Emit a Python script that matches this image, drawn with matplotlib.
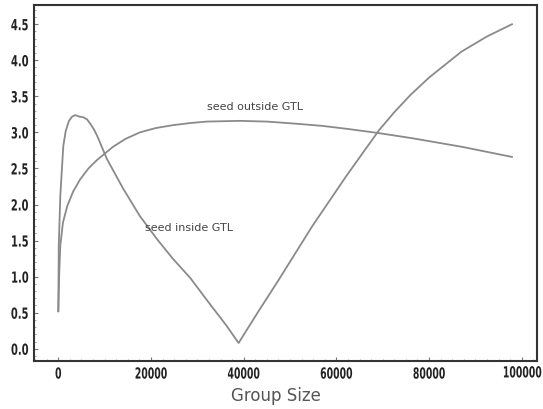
import numpy as np
import matplotlib
matplotlib.use("Agg")
import matplotlib.pyplot as plt
from matplotlib.ticker import MultipleLocator
from matplotlib.font_manager import FontProperties
from matplotlib.patheffects import AbstractPathEffect
from matplotlib.transforms import Affine2D

# seed inside GTL
inside_x = [0, 100, 430, 1075, 1600, 2300, 3000, 3650, 4500, 5400, 6200,
            6900, 7700, 8400, 10500, 14000, 17600, 21300, 24700, 28500,
            32000, 36300, 38900, 43000, 47700, 54800, 62200, 69200, 72500,
            76000, 80000, 87000, 92500, 97900]
inside_y = [0.52, 1.43, 2.12, 2.81, 3.02, 3.16, 3.22, 3.24, 3.22, 3.21, 3.18,
            3.12, 3.04, 2.95, 2.63, 2.22, 1.84, 1.52, 1.25, 0.98,
            0.68, 0.32, 0.08, 0.50, 0.97, 1.70, 2.40, 3.03, 3.28,
            3.52, 3.76, 4.12, 4.33, 4.50]

# seed outside GTL
outside_x = [0, 200, 430, 1000, 1940, 3200, 4730, 6500, 8400, 11800, 14500,
             17600, 21000, 24700, 28500, 32000, 39100, 45000, 51400, 57000,
             62200, 69200, 76300, 87100, 97900]
outside_y = [0.52, 1.05, 1.43, 1.75, 1.98, 2.18, 2.35, 2.50, 2.62, 2.80, 2.91,
             3.0, 3.06, 3.1, 3.13, 3.15, 3.16, 3.15, 3.12, 3.09,
             3.05, 2.99, 2.92, 2.80, 2.66]

x_ticks = [0, 20000, 40000, 60000, 80000, 100000]
y_ticks = [0.0, 0.5, 1.0, 1.5, 2.0, 2.5, 3.0, 3.5, 4.0, 4.5]


class Condense(AbstractPathEffect):
    """squeeze glyphs horizontally (narrow bold look of the original)"""
    def __init__(self, sx=0.66, anchor='center'):
        super().__init__()
        self.sx = sx
        self.anchor = anchor

    def draw_path(self, renderer, gc, tpath, affine, rgbFace=None):
        ext = tpath.get_extents()
        if self.anchor == 'right':
            cx = ext.x1
        else:
            cx = (ext.x0 + ext.x1) / 2
        t = Affine2D().translate(-cx, 0).scale(self.sx, 1).translate(cx, 0) + affine
        renderer.draw_path(gc, tpath, t, rgbFace)


fig = plt.figure(figsize=(5.43, 4.10), dpi=100)
ax = fig.add_axes([0.063, 0.117, 0.926, 0.869])

line_col = '#8a8a8a'
ax.plot(inside_x, inside_y, color=line_col, lw=1.3)
ax.plot(outside_x, outside_y, color=line_col, lw=1.3)

ax.text(18700, 1.69, 'seed inside GTL', fontsize=8, color='#444444',
        ha='left', va='center')
ax.text(32000, 3.37, 'seed outside GTL', fontsize=8, color='#444444',
        ha='left', va='center')

ax.set_xlim(-5200, 103300)
ax.set_ylim(-0.17, 4.77)
ax.set_xticks(x_ticks)
ax.set_xticklabels([str(v) for v in x_ticks[:-1]] + [''])
ax.set_yticks(y_ticks)
ax.set_yticklabels([f'{v:.1f}' for v in y_ticks])
ax.xaxis.set_minor_locator(MultipleLocator(2500))
ax.yaxis.set_minor_locator(MultipleLocator(0.1))

tick_fp = FontProperties(family='DejaVu Sans', weight='bold', size=11)
for lab in ax.get_xticklabels():
    lab.set_fontproperties(tick_fp)
    lab.set_color('#222222')
    lab.set_path_effects([Condense(0.61, 'center')])
for lab in ax.get_yticklabels():
    lab.set_fontproperties(tick_fp)
    lab.set_color('#222222')
    lab.set_path_effects([Condense(0.65, 'right')])

# last x label sits on the right edge of the picture
fig.text(0.998, 0.088, str(x_ticks[-1]), fontproperties=tick_fp,
         color='#222222', ha='right', va='center',
         path_effects=[Condense(0.61, 'right')])

ax.tick_params(which='major', direction='in', length=3, width=0.8,
               color='#777777', pad=4)
ax.tick_params(which='minor', direction='in', length=1.5, width=0.6,
               color='#999999')

for sp in ax.spines.values():
    sp.set_linewidth(1.5)
    sp.set_color('#333333')

ax.set_xlabel('Group Size', fontsize=12, color='#555555')
ax.xaxis.set_label_coords(0.48, -0.07)

fig.savefig('out.png', dpi=100)
